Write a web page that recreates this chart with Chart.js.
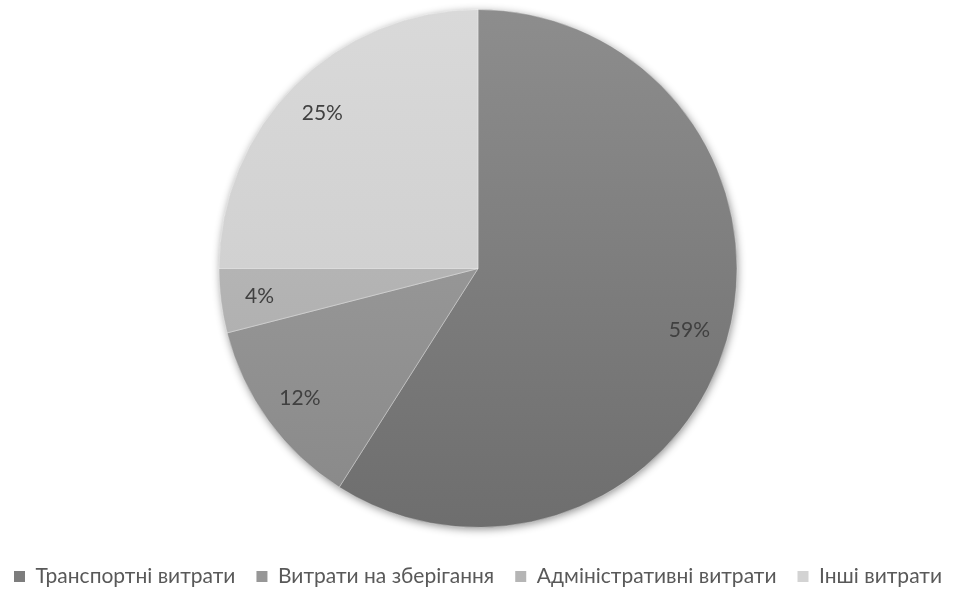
<!DOCTYPE html>
<html>
<head>
<meta charset="utf-8">
<script src="https://cdn.jsdelivr.net/npm/chart.js@4.4.1/dist/chart.umd.min.js"></script>
<style>
  html, body { margin: 0; padding: 0; background: #fff; overflow: hidden; }
  /* canvas is a bit bigger than the window so the pie and the one-row legend sit as in the original */
  .chart { width: 1000px; height: 610px; margin-top: -11px; margin-left: -22px; }
</style>
</head>
<body>
<div class="chart"><canvas id="myChart"></canvas></div>
<script>
const categories = ['Транспортні витрати', 'Витрати на зберігання', 'Адміністративні витрати', 'Інші витрати'];
const shares = [59, 12, 4, 25];

// gradient stops for each slice (top of pie -> bottom of pie)
const topColors = ['#8d8d8d', '#a4a4a4', '#c0c0c0', '#d9d9d9'];
const bottomColors = ['#6e6e6e', '#888888', '#a8a8a8', '#c9c9c9'];
const legendColors = ['#7d7d7d', '#979797', '#b5b5b5', '#d3d3d3'];

const pieRadius = 259;
const font = 'Lato, "Open Sans", sans-serif';

function sliceFill(context) {
    const chart = context.chart;
    const area = chart.chartArea;
    if (!area) return topColors[context.dataIndex];
    const cy = (area.top + area.bottom) / 2;
    const g = chart.ctx.createLinearGradient(0, cy - pieRadius, 0, cy + pieRadius);
    g.addColorStop(0, topColors[context.dataIndex]);
    g.addColorStop(1, bottomColors[context.dataIndex]);
    return g;
}

// soft shadow under the whole pie
const pieShadow = {
    id: 'pieShadow',
    beforeDatasetsDraw(chart) {
        const arc = chart.getDatasetMeta(0).data[0];
        if (!arc) return;
        const ctx = chart.ctx;
        ctx.save();
        ctx.shadowColor = 'rgba(0,0,0,0.45)';
        ctx.shadowBlur = 9;
        ctx.shadowOffsetX = 1;
        ctx.shadowOffsetY = 2;
        ctx.fillStyle = '#888';
        ctx.beginPath();
        ctx.arc(arc.x, arc.y, arc.outerRadius - 0.5, 0, Math.PI * 2);
        ctx.fill();
        ctx.restore();
    }
};

// percentage labels inside the slices
const pctLabels = {
    id: 'pctLabels',
    afterDatasetsDraw(chart) {
        const ctx = chart.ctx;
        const meta = chart.getDatasetMeta(0);
        const total = shares.reduce((a, b) => a + b, 0);
        ctx.save();
        ctx.font = '21px ' + font;
        ctx.fillStyle = '#404040';
        ctx.textAlign = 'center';
        ctx.textBaseline = 'middle';
        meta.data.forEach((arc, i) => {
            const mid = (arc.startAngle + arc.endAngle) / 2;
            const r = arc.outerRadius * 0.85;
            const text = Math.round(shares[i] / total * 100) + '%';
            ctx.fillText(text, arc.x + Math.cos(mid) * r, arc.y + Math.sin(mid) * r);
        });
        ctx.restore();
    }
};

let data = {
    labels: categories,
    datasets: [{
        data: shares,
        backgroundColor: sliceFill,
        borderColor: 'rgba(255,255,255,0.35)',
        borderWidth: 1,
        radius: pieRadius,
        clip: false
    }]
};

let config = {
    type: 'pie',
    data: data,
    options: {
        responsive: true,
        maintainAspectRatio: false,
        animation: false,
        layout: { padding: { top: 3, bottom: 2, left: 0, right: 0 } },
        plugins: {
            tooltip: { enabled: false },
            legend: {
                position: 'bottom',
                labels: {
                    boxWidth: 11,
                    boxHeight: 11,
                    padding: 21,
                    color: '#595959',
                    font: { family: font, size: 21 },
                    generateLabels(chart) {
                        return categories.map((c, i) => ({
                            text: c,
                            fillStyle: legendColors[i],
                            strokeStyle: legendColors[i],
                            lineWidth: 0,
                            fontColor: '#595959',
                            index: i,
                            hidden: false
                        }));
                    }
                }
            }
        }
    },
    plugins: [pieShadow, pctLabels]
};

let myChart = new Chart(document.getElementById('myChart'), config);
</script>
</body>
</html>
